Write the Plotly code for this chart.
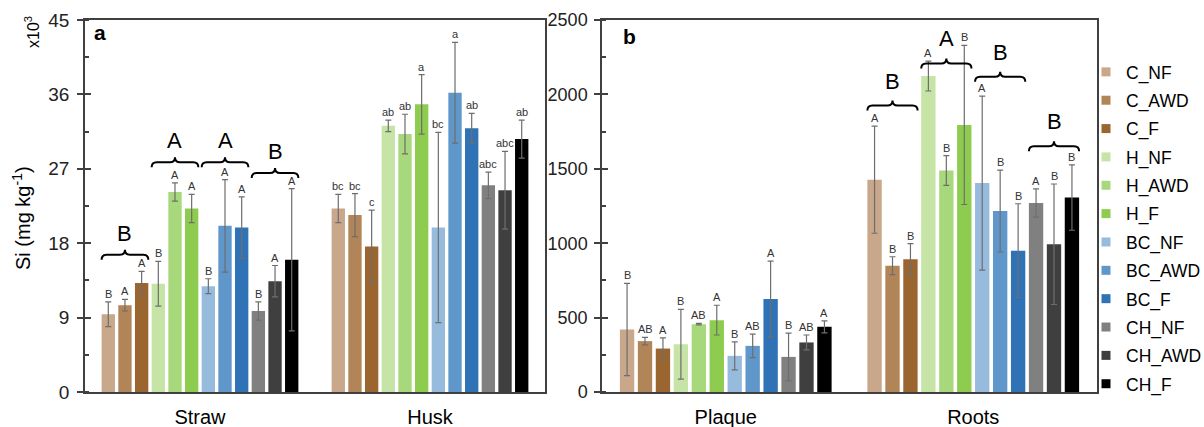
import plotly.graph_objects as go

# ---------------- data ----------------
treatments = ["C_NF", "C_AWD", "C_F", "H_NF", "H_AWD", "H_F",
              "BC_NF", "BC_AWD", "BC_F", "CH_NF", "CH_AWD", "CH_F"]
colors = ["#C8A78A", "#B28559", "#9B6530", "#C5E4A5", "#A8D87C", "#8ECC4F",
          "#97BBDD", "#5F97CB", "#2F72B5", "#808080", "#3F3F3F", "#000000"]

tissues_a = ["Straw", "Husk"]
tissues_b = ["Plaque", "Roots"]

# panel a, Si in mg/kg x10^3
straw_mean = [9.4, 10.5, 13.2, 13.1, 24.2, 22.2, 12.8, 20.1, 19.9, 9.8, 13.4, 16.0]
straw_err = [1.5, 0.7, 1.4, 2.7, 1.1, 1.7, 0.9, 5.6, 3.7, 1.1, 1.9, 8.6]
husk_mean = [22.2, 21.4, 17.6, 32.2, 31.2, 34.8, 19.9, 36.2, 31.9, 25.0, 24.4, 30.6]
husk_err = [1.7, 2.6, 4.4, 0.7, 2.4, 3.6, 11.5, 6.1, 1.8, 1.6, 4.7, 2.3]

# panel b, Si in mg/kg
plaque_mean = [420, 342, 292, 321, 456, 483, 243, 310, 625, 236, 333, 438]
plaque_err = [310, 25, 72, 234, 5, 100, 94, 79, 255, 160, 50, 40]
roots_mean = [1427, 849, 892, 2123, 1489, 1795, 1404, 1216, 950, 1270, 993, 1307]
roots_err = [360, 60, 105, 100, 100, 535, 585, 275, 315, 95, 405, 220]

straw_letters = ["B", "A", "A", "B", "A", "A", "B", "A", "A", "B", "A", "A"]
husk_letters = ["bc", "bc", "c", "ab", "ab", "a", "bc", "a", "ab", "abc", "abc", "ab"]
plaque_letters = ["B", "AB", "A", "B", "AB", "A", "B", "AB", "A", "B", "AB", "A"]
roots_letters = ["A", "B", "B", "A", "B", "B", "A", "B", "B", "A", "B", "B"]

# group (amendment) letters with brace levels
straw_group_letters = ["B", "A", "A", "B"]
straw_brace_level = [16.6, 27.8, 27.8, 26.5]
roots_group_letters = ["B", "A", "B", "B"]
roots_brace_level = [1925, 2208, 2119, 1651]

y_ticks_a = [0, 9, 18, 27, 36, 45]
y_ticks_b = [0, 500, 1000, 1500, 2000, 2500]

# ---------------- layout constants ----------------
W, H = 1204, 427
MT, MB = 20, 35
PH = H - MT - MB
BARGAP = 0.13
GROUPGAP = 0.2
FONT = "Liberation Sans, Arial, sans-serif"
ERRC = "#6E6E6E"
AXC = "#404040"
AX_A = [85, 545]
AX_B = [602, 1097]

n = len(treatments)
gw = 1 - BARGAP
slot = gw / n
offsets = [-gw / 2 + (i + 0.5) * slot for i in range(n)]
half_bar = slot * (1 - GROUPGAP) / 2


def py(ypx):
    return (H - MB - ypx) / PH


fig = go.Figure()

for i, t in enumerate(treatments):
    fig.add_trace(go.Bar(
        x=[0, 1], y=[straw_mean[i], husk_mean[i]],
        error_y=dict(type="data", array=[straw_err[i], husk_err[i]],
                     color=ERRC, thickness=1.2, width=3),
        marker=dict(color=colors[i], line=dict(width=0)),
        name=t, legendgroup=t, showlegend=False, xaxis="x", yaxis="y"))
for i, t in enumerate(treatments):
    fig.add_trace(go.Bar(
        x=[0, 1], y=[plaque_mean[i], roots_mean[i]],
        error_y=dict(type="data", array=[plaque_err[i], roots_err[i]],
                     color=ERRC, thickness=1.2, width=3),
        marker=dict(color=colors[i], line=dict(width=0)),
        name=t, legendgroup=t, showlegend=False, xaxis="x2", yaxis="y2"))
# legend entries (small square swatches)
for i, t in enumerate(treatments):
    fig.add_trace(go.Scatter(
        x=[None], y=[None], mode="markers", name=t, legendgroup=t,
        marker=dict(symbol="square", size=9, color=colors[i]),
        xaxis="x", yaxis="y", hoverinfo="skip"))
# empty traces for the overlay axes carrying the inner half of major ticks
fig.add_trace(go.Scatter(x=[None], y=[None], xaxis="x", yaxis="y3",
                         showlegend=False, hoverinfo="skip"))
fig.add_trace(go.Scatter(x=[None], y=[None], xaxis="x2", yaxis="y4",
                         showlegend=False, hoverinfo="skip"))

annotations = []
shapes = []


def add_letters(cat, means, errs, letters, xref, yref):
    for i in range(n):
        annotations.append(dict(
            x=cat + offsets[i], y=means[i] + errs[i], xref=xref, yref=yref,
            text=letters[i], showarrow=False, yanchor="bottom", yshift=0,
            font=dict(family=FONT, size=11, color="#333333")))


add_letters(0, straw_mean, straw_err, straw_letters, "x", "y")
add_letters(1, husk_mean, husk_err, husk_letters, "x", "y")
add_letters(0, plaque_mean, plaque_err, plaque_letters, "x2", "y2")
add_letters(1, roots_mean, roots_err, roots_letters, "x2", "y2")


def add_braces(cat, levels, glets, xref, yref, ppu_x, ppu_y, shift):
    dt = 5 / ppu_y
    r = 5 / ppu_x
    for g in range(4):
        x0 = cat + offsets[3 * g] - half_bar
        x1 = cat + offsets[3 * g + 2] + half_bar
        xm = (x0 + x1) / 2
        yl = levels[g]
        path = (f"M {x0},{yl - dt} Q {x0},{yl} {x0 + r},{yl} "
                f"L {xm - r},{yl} Q {xm},{yl} {xm},{yl + dt} "
                f"Q {xm},{yl} {xm + r},{yl} L {x1 - r},{yl} "
                f"Q {x1},{yl} {x1},{yl - dt}")
        shapes.append(dict(type="path", path=path, xref=xref, yref=yref,
                           line=dict(color="black", width=2)))
        annotations.append(dict(
            x=xm, y=yl + dt, xref=xref, yref=yref, text=glets[g],
            showarrow=False, yanchor="bottom", yshift=shift,
            font=dict(family=FONT, size=22, color="black")))


add_braces(0, straw_brace_level, straw_group_letters, "x", "y",
           (AX_A[1] - AX_A[0]) / 2, PH / 45, 2)
add_braces(1, roots_brace_level, roots_group_letters, "x2", "y2",
           (AX_B[1] - AX_B[0]) / 2, PH / 2500, 5)

# panel labels and axis texts
annotations += [
    dict(x=92 / W, y=py(19), xref="paper", yref="paper", text="<b>a</b>",
         showarrow=False, xanchor="left", yanchor="top",
         font=dict(family=FONT, size=21, color="black")),
    dict(x=621 / W, y=py(23), xref="paper", yref="paper", text="<b>b</b>",
         showarrow=False, xanchor="left", yanchor="top",
         font=dict(family=FONT, size=21, color="black")),
    dict(x=21 / W, y=py(218), xref="paper", yref="paper",
         text="Si (mg kg<sup>-1</sup>)", textangle=-90, showarrow=False,
         xanchor="center", yanchor="middle",
         font=dict(family=FONT, size=20, color="black")),
    dict(x=32 / W, y=py(32), xref="paper", yref="paper",
         text="x10<sup>3</sup>", textangle=-90, showarrow=False,
         xanchor="center", yanchor="middle",
         font=dict(family=FONT, size=16, color="black")),
]

xcommon = dict(range=[-0.5, 1.5], tickmode="array", tickvals=[0, 1],
               showline=True, linecolor=AXC, linewidth=1.5, mirror=True,
               ticks="", showgrid=False, zeroline=False, ticklabelstandoff=6,
               tickfont=dict(family=FONT, size=20, color="black"))
ycommon = dict(showline=True, linecolor=AXC, linewidth=1.5, mirror=True,
               ticks="outside", ticklen=6, tickcolor=AXC, tickwidth=1.5,
               showgrid=False, zeroline=False)
yinner = dict(ticks="inside", ticklen=6, tickcolor=AXC, tickwidth=1.5,
              showticklabels=False, showline=False, showgrid=False,
              zeroline=False, side="left")

fig.update_layout(
    width=W, height=H,
    margin=dict(l=0, r=0, t=MT, b=MB, autoexpand=False),
    paper_bgcolor="white", plot_bgcolor="white",
    barmode="group", bargap=BARGAP, bargroupgap=GROUPGAP,
    font=dict(family=FONT),
    xaxis=dict(domain=[AX_A[0] / W, AX_A[1] / W], ticktext=tissues_a, anchor="y", **xcommon),
    xaxis2=dict(domain=[AX_B[0] / W, AX_B[1] / W], ticktext=tissues_b, anchor="y2", **xcommon),
    yaxis=dict(range=[0, 45], tickvals=y_ticks_a, anchor="x", ticklabelstandoff=4,
               tickfont=dict(family=FONT, size=19, color="#222222"),
               minor=dict(ticks="inside", ticklen=4, dtick=4.5, tickcolor=AXC, tickwidth=1.5),
               **ycommon),
    yaxis2=dict(range=[0, 2500], tickvals=y_ticks_b, anchor="x2", ticklabelstandoff=3,
                tickfont=dict(family=FONT, size=18, color="#222222"),
                minor=dict(ticks="inside", ticklen=4, dtick=250, tickcolor=AXC, tickwidth=1.5),
                **ycommon),
    yaxis3=dict(range=[0, 45], tickvals=y_ticks_a, anchor="x", overlaying="y", **yinner),
    yaxis4=dict(range=[0, 2500], tickvals=y_ticks_b, anchor="x2", overlaying="y2", **yinner),
    legend=dict(x=1086 / W, y=py(54), xanchor="left", yanchor="top",
                traceorder="grouped", tracegroupgap=2.6,
                font=dict(family=FONT, size=17.5, color="black"),
                itemwidth=30, bgcolor="rgba(0,0,0,0)"),
    annotations=annotations,
    shapes=shapes,
    showlegend=True,
)

fig.write_html("out.html", config={"displayModeBar": False},
               post_script="document.body.style.margin='0';document.body.style.padding='0';")
